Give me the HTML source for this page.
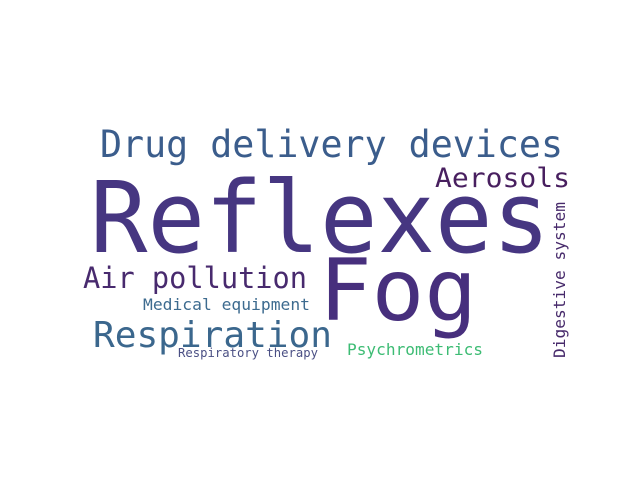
<!DOCTYPE html>
<html><head><meta charset="utf-8"><style>
html,body{margin:0;padding:0;background:#fff;width:640px;height:480px;overflow:hidden}
svg text{font-family:"DejaVu Sans Mono","Liberation Mono",monospace}
</style></head><body>
<svg width="640" height="480">
<rect width="640" height="480" fill="#fff"/>
<text x="100" y="157" font-size="37" fill="#3b5d8c" textLength="463" lengthAdjust="spacingAndGlyphs">Drug delivery devices</text>
<text x="435" y="187" font-size="27" fill="#481f5f" textLength="135" lengthAdjust="spacingAndGlyphs">Aerosols</text>
<text x="90" y="252" font-size="99" fill="#463681" textLength="460" lengthAdjust="spacingAndGlyphs">Reflexes</text>
<text x="319" y="320" font-size="86" fill="#472f7d" textLength="158" lengthAdjust="spacingAndGlyphs">Fog</text>
<text x="83" y="288" font-size="29" fill="#482a6e" textLength="224" lengthAdjust="spacingAndGlyphs">Air pollution</text>
<text x="143" y="310" font-size="16" fill="#3d6b8f" textLength="167" lengthAdjust="spacingAndGlyphs">Medical equipment</text>
<text x="93" y="347" font-size="36" fill="#3b678d" textLength="239" lengthAdjust="spacingAndGlyphs">Respiration</text>
<text x="178" y="357" font-size="12" fill="#4a4f84" textLength="140" lengthAdjust="spacingAndGlyphs">Respiratory therapy</text>
<text x="347" y="355" font-size="16" fill="#3dbc74" textLength="136" lengthAdjust="spacingAndGlyphs">Psychrometrics</text>
<text transform="translate(565,358) rotate(-90)" x="0" y="0" font-size="16" fill="#472a6b" textLength="156" lengthAdjust="spacingAndGlyphs">Digestive system</text>
</svg>
</body></html>
